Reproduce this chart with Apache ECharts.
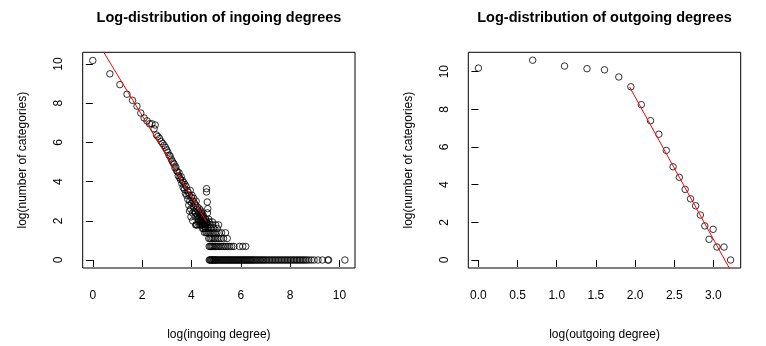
<!DOCTYPE html>
<html>
<head>
<meta charset="utf-8">
<script src="https://cdn.jsdelivr.net/npm/echarts@6/dist/echarts.min.js"></script>
<style>
html,body{margin:0;padding:0;background:#fff;}
#c{width:766px;height:346px;}
</style>
</head>
<body>
<div id="c"></div>
<script>
// ---------- DATA ----------
// Left panel: log(ingoing degree) vs log(number of categories)
const inTrend = [
  [0,10.18],[0.693,9.5],[1.099,8.95],[1.386,8.46],[1.609,8.15],[1.792,7.85],[1.946,7.5],
  [2.079,7.25],[2.197,7.1],[2.303,6.95],[2.398,6.95],[2.485,6.7],[2.53,6.89],[2.58,6.38],
  [2.639,6.3],[2.708,6.2],[2.773,6.05],[2.833,5.95],[2.890,5.85],[2.944,5.75],[2.996,5.62],
  [3.045,5.5],[3.091,5.35],[3.135,5.3],[3.178,5.15],[3.219,5.05],[3.258,4.95],[3.296,4.9],
  [3.332,4.7],[3.367,4.75],[3.401,4.55],[3.434,4.5],[3.466,4.3],[3.497,4.45],[3.526,4.2],
  [3.555,4.1],[3.584,4.25],[3.611,3.9],[3.638,4.05],[3.664,3.7],[3.689,3.95],[3.714,3.6],
  [3.738,3.85],[3.761,3.4],[3.784,3.75],[3.807,3.3],[3.829,3.55],[3.850,3.1],[3.871,3.45],
  [3.892,2.8],[3.912,3.3],[3.932,3.0],[3.951,3.55],[3.970,2.6],[3.989,3.2],[4.007,2.9],
  [4.025,3.3],[4.043,2.4],[4.060,3.0],[4.078,2.7],[4.094,3.15],[4.111,2.5],[4.127,2.9],
  [4.143,2.2],[4.159,2.8],[4.174,2.4],[4.190,3.0],[4.205,1.8],[4.220,2.6],[4.234,2.3],
  [4.248,2.7],[4.263,2.1],[4.277,2.5],[4.290,1.95],[4.304,2.4],[4.317,2.2],[4.331,2.6],
  [4.344,1.8],[4.357,2.3],[4.369,2.0],[4.382,2.5],[4.394,2.2],[4.407,1.95],[4.419,2.4],
  [4.431,1.8],[4.443,2.1],[4.454,1.6],[4.466,2.3],[4.477,1.95],[4.489,1.6],[4.500,2.2],
  [4.511,1.8],[4.522,2.0],[4.533,1.4],[4.543,1.95],[4.554,1.7],[4.564,2.1],[4.575,1.6],
  [4.585,1.8],[4.595,1.4],[4.605,1.9],
  [4.61,3.64],[4.61,3.47],[4.64,2.96],[4.66,2.62],[4.65,2.4],
  [3.92,2.5],[3.98,2.2],[4.05,2.0]
];
const inRow8 = [4.28,4.42,4.58,4.70];            // y = log(8)
const inRow7 = [4.35,4.50,4.62,4.72,4.85];       // y = log(7)
const inRow6 = [4.17,4.22,4.30,4.38,4.47,4.56,4.66,4.76,4.86,4.98,5.10]; // y = log(6)
const inRow5 = [4.55,4.68,4.78,4.90,5.05];       // y = log(5)
const inRow4 = [4.64,4.69,4.74,4.80,4.87,4.95,5.03,5.12,5.22,5.38]; // y = log(4)
const inRow3 = [4.70,4.75,4.80,4.86,4.92,4.98,5.05,5.12,5.20,5.30,5.45]; // y = log(3)
const inRow2 = [4.72,4.76,4.80,4.84,4.88,4.93,4.98,5.03,5.08,5.14,5.20,5.27,5.33,5.40,
  5.47,5.55,5.63,5.72,5.95,6.08,6.20];            // y = log(2)
const inRow1 = [4.72,4.75,4.78,4.81,4.84,4.87,4.90,4.93,4.96,4.99,5.02,5.06,5.10,5.14,5.18,
  5.22,5.26,5.30,5.34,5.38,5.42,5.46,5.50,5.54,5.58,5.62,5.66,5.70,5.74,5.78,5.82,5.86,5.90,
  5.94,5.98,6.02,6.06,6.10,6.14,6.18,6.22,6.26,6.30,6.34,6.38,6.42,6.46,6.50,6.54,6.59,6.64,
  6.69,6.74,6.79,6.84,6.89,6.94,6.99,7.05,7.11,7.17,7.23,7.29,7.35,7.41,7.47,7.53,7.59,7.65,
  7.71,7.77,7.83,7.89,7.95,8.01,8.07,8.13,8.19,8.25,8.31,8.37,8.43,8.49,8.55,8.61,8.68,8.76,
  8.86,8.97,9.13,9.31,9.53,9.56,10.22];           // y = log(1) = 0
const inFit = [[0,11.52],[4.61,1.96]];

// Right panel: log(outgoing degree) vs log(number of categories)
const outX = [0,0.693,1.099,1.386,1.609,1.792,1.946,2.079,2.197,2.303,2.398,2.485,2.565,
  2.639,2.708,2.773,2.833,2.890,2.944,2.996,3.045,3.135,3.219];
const outY = [10.19,10.61,10.3,10.16,10.1,9.72,9.2,8.25,7.4,6.68,5.82,4.95,4.39,
  3.75,3.25,2.88,2.39,1.81,1.1,1.63,0.69,0.69,0];
const outFit = [[1.93,9.19],[3.25,-0.79]];

// Tick labels
const inTicksX = [0,2,4,6,8,10];
const ticksY = [0,2,4,6,8,10];
const outTicksX = [0,0.5,1,1.5,2,2.5,3];

// ---------- BUILD ----------
function rowPts(xs, y){ return xs.map(x => [x, y]); }
const inPts = inTrend
  .concat(rowPts(inRow8, Math.log(8)))
  .concat(rowPts(inRow7, Math.log(7)))
  .concat(rowPts(inRow6, Math.log(6)))
  .concat(rowPts(inRow5, Math.log(5)))
  .concat(rowPts(inRow4, Math.log(4)))
  .concat(rowPts(inRow3, Math.log(3)))
  .concat(rowPts(inRow2, Math.log(2)))
  .concat(rowPts(inRow1, 0));
const outPts = outX.map((x, i) => [x, outY[i]]);

const FONT = 'Liberation Sans, Arial, Helvetica, sans-serif';
const chart = echarts.init(document.getElementById('c'), null, {renderer: 'canvas'});

function xAx(idx, min, max, ticks, name, fmt){
  return {
    type: 'value', gridIndex: idx, min: min, max: max,
    name: name, nameLocation: 'middle', nameGap: 61,
    nameTextStyle: {fontSize: 12, color: '#000', fontFamily: FONT},
    axisLine: {show: false},
    axisTick: {show: true, inside: false, length: 7, customValues: ticks, lineStyle: {color: '#000', width: 1}},
    axisLabel: {show: true, customValues: ticks, margin: 22, fontSize: 12, color: '#000', fontFamily: FONT,
      formatter: fmt || (v => String(v))},
    splitLine: {show: false}
  };
}
function yAx(idx, min, max, ticks, name){
  return {
    type: 'value', gridIndex: idx, min: min, max: max,
    name: name, nameLocation: 'middle', nameGap: 54,
    nameTextStyle: {fontSize: 12, color: '#000', fontFamily: FONT},
    axisLine: {show: false},
    axisTick: {show: true, inside: false, length: 7, customValues: ticks, lineStyle: {color: '#000', width: 1}},
    axisLabel: {show: true, customValues: ticks, rotate: 90, margin: 18, fontSize: 12, color: '#000', fontFamily: FONT,
      formatter: v => String(v)},
    splitLine: {show: false}
  };
}
const circleStyle = {color: 'rgba(0,0,0,0)', borderColor: '#000', borderWidth: 1};

chart.setOption({
  animation: false,
  backgroundColor: '#fff',
  title: [
    {text: 'Log-distribution of ingoing degrees', left: 219, top: 10, textAlign: 'center', padding: 0,
     textStyle: {fontSize: 14.5, fontWeight: 'bold', color: '#000', fontFamily: FONT}},
    {text: 'Log-distribution of outgoing degrees', left: 604.5, top: 10, textAlign: 'center', padding: 0,
     textStyle: {fontSize: 14.5, fontWeight: 'bold', color: '#000', fontFamily: FONT}}
  ],
  grid: [
    {left: 82.7, top: 52.3, width: 272.3, height: 217.7, show: true, borderColor: '#000', borderWidth: 1, backgroundColor: 'rgba(0,0,0,0)'},
    {left: 468.3, top: 52.3, width: 272.4, height: 217.7, show: true, borderColor: '#000', borderWidth: 1, backgroundColor: 'rgba(0,0,0,0)'}
  ],
  xAxis: [
    xAx(0, -0.409, 10.63, inTicksX, 'log(ingoing degree)'),
    xAx(1, -0.129, 3.348, outTicksX, 'log(outgoing degree)', v => v.toFixed(1))
  ],
  yAxis: [
    yAx(0, -0.408, 10.6, ticksY, 'log(number of categories)'),
    yAx(1, -0.424, 11.03, ticksY, 'log(number of categories)')
  ],
  series: [
    {type: 'scatter', xAxisIndex: 0, yAxisIndex: 0, data: inPts, symbol: 'circle', symbolSize: 6.5, itemStyle: circleStyle, silent: true},
    {type: 'line', xAxisIndex: 0, yAxisIndex: 0, data: inFit, symbol: 'none', clip: true, lineStyle: {color: '#ff0000', width: 1}, silent: true},
    {type: 'scatter', xAxisIndex: 1, yAxisIndex: 1, data: outPts, symbol: 'circle', symbolSize: 6.5, itemStyle: circleStyle, silent: true},
    {type: 'line', xAxisIndex: 1, yAxisIndex: 1, data: outFit, symbol: 'none', clip: true, lineStyle: {color: '#ff0000', width: 1}, silent: true}
  ]
});
</script>
</body>
</html>
